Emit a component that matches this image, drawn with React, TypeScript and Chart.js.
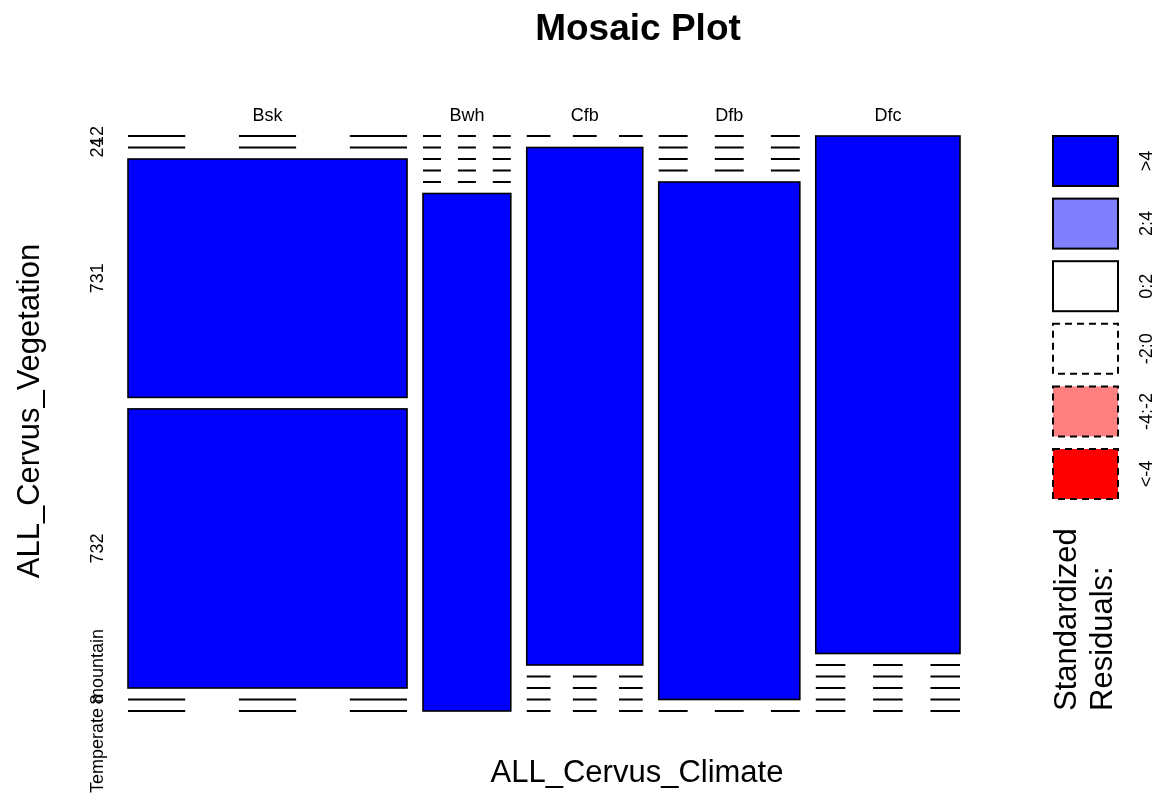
import { useEffect, useRef } from "react";
import { Chart, registerables } from "chart.js";

Chart.register(...registerables);

// Climate classes (columns) and vegetation classes (rows, top to bottom)
const climates = ["Bsk", "Bwh", "Cfb", "Dfb", "Dfc"];
const vegetation = ["12", "24", "731", "732", "8", "Temperate mountain"];

// Observation counts per climate, in the order of `vegetation`
const countsBsk = [0, 0, 41, 48, 0, 0];
const countsBwh = [0, 0, 0, 0, 0, 28];
const countsCfb = [0, 37, 0, 0, 0, 0];
const countsDfb = [0, 0, 0, 0, 45, 0];
const countsDfc = [46, 0, 0, 0, 0, 0];
const climateCounts = [countsBsk, countsBwh, countsCfb, countsDfb, countsDfc];

// Shading scale for standardized (Pearson) residuals
const residualLabels = [">4", "2:4", "0:2", "-2:0", "-4:-2", "<-4"];
const residualFills = ["#0000FF", "#8080FF", "#FFFFFF", "#FFFFFF", "#FF8080", "#FF0000"];
const residualDashed = [false, false, false, true, true, true];

const FONT = '"Liberation Sans", Arial, Helvetica, sans-serif';
const GAP_X = 0.0192; // spacing between climate columns, fraction of width
const GAP_Y = 0.02; // spacing between vegetation rows, fraction of height

function shadeIndex(r: number): number {
  if (r > 4) return 0;
  if (r > 2) return 1;
  if (r >= 0) return 2;
  if (r > -2) return 3;
  if (r > -4) return 4;
  return 5;
}

type Cell = { x0: number; x1: number; y0: number; y1: number; count: number; resid: number; col: number; row: number };

function buildCells(): Cell[] {
  const colTotals = climateCounts.map((c) => c.reduce((a, b) => a + b, 0));
  const rowTotals = vegetation.map((_, i) => climateCounts.reduce((a, c) => a + c[i], 0));
  const total = colTotals.reduce((a, b) => a + b, 0);
  const wAvail = 1 - (climates.length - 1) * GAP_X;
  const hAvail = 1 - (vegetation.length - 1) * GAP_Y;
  const cells: Cell[] = [];
  let x = 0;
  climateCounts.forEach((col, ci) => {
    const w = (wAvail * colTotals[ci]) / total;
    let y = 0;
    col.forEach((n, ri) => {
      const h = (hAvail * n) / colTotals[ci];
      const expected = (rowTotals[ri] * colTotals[ci]) / total;
      const resid = (n - expected) / Math.sqrt(expected);
      cells.push({ x0: x, x1: x + w, y0: y, y1: y + h, count: n, resid, col: ci, row: ri });
      y += h + GAP_Y;
    });
    x += w + GAP_X;
  });
  return cells;
}

const mosaicPlugin = {
  id: "mosaic",
  afterDraw(chart: any) {
    const ctx: CanvasRenderingContext2D = chart.ctx;
    const xs = chart.scales.x;
    const ys = chart.scales.y;
    const area = chart.chartArea;
    const cells = buildCells();

    ctx.save();
    // cells
    cells.forEach((c) => {
      const px0 = xs.getPixelForValue(c.x0);
      const px1 = xs.getPixelForValue(c.x1);
      const py0 = ys.getPixelForValue(c.y0);
      const py1 = ys.getPixelForValue(c.y1);
      if (c.count > 0) {
        const k = shadeIndex(c.resid);
        ctx.fillStyle = residualFills[k];
        ctx.fillRect(px0, py0, px1 - px0, py1 - py0);
        ctx.strokeStyle = "#000";
        ctx.lineWidth = 1.6;
        ctx.setLineDash(residualDashed[k] ? [6, 4] : []);
        ctx.strokeRect(px0, py0, px1 - px0, py1 - py0);
      } else {
        // empty cell: three short strokes across the column
        const w = px1 - px0;
        const seg = 0.205 * w;
        const starts = [px0, px0 + w / 2 - seg / 2, px1 - seg];
        ctx.strokeStyle = "#000";
        ctx.lineWidth = 2;
        ctx.setLineDash([]);
        starts.forEach((s) => {
          ctx.beginPath();
          ctx.moveTo(s, py0);
          ctx.lineTo(s + seg, py0);
          ctx.stroke();
        });
      }
    });

    ctx.fillStyle = "#000";
    ctx.textAlign = "center";
    ctx.textBaseline = "middle";

    // climate labels above each column
    ctx.font = `18px ${FONT}`;
    cells
      .filter((c) => c.row === 0)
      .forEach((c) => {
        const cx = (xs.getPixelForValue(c.x0) + xs.getPixelForValue(c.x1)) / 2;
        ctx.fillText(climates[c.col], cx, area.top - 20);
      });

    // vegetation labels beside the first column
    cells
      .filter((c) => c.col === 0)
      .forEach((c) => {
        const cy = (ys.getPixelForValue(c.y0) + ys.getPixelForValue(c.y1)) / 2;
        ctx.save();
        ctx.translate(area.left - 30, cy);
        ctx.rotate(-Math.PI / 2);
        ctx.fillText(vegetation[c.row], 0, 0);
        ctx.restore();
      });

    // title and axis titles
    ctx.font = `bold 37px ${FONT}`;
    ctx.fillText("Mosaic Plot", 638, 30);
    ctx.font = `31px ${FONT}`;
    ctx.fillText("ALL_Cervus_Climate", 637, 773);
    ctx.save();
    ctx.translate(30, 411);
    ctx.rotate(-Math.PI / 2);
    ctx.fillText("ALL_Cervus_Vegetation", 0, 0);
    ctx.restore();

    // residual legend
    const bx = 1053;
    const bw = 65;
    const bh = 50;
    const step = 62.6;
    residualLabels.forEach((lab, i) => {
      const by = 136 + i * step;
      ctx.fillStyle = residualFills[i];
      ctx.fillRect(bx, by, bw, bh);
      ctx.strokeStyle = "#000";
      ctx.lineWidth = 2;
      ctx.setLineDash(residualDashed[i] ? [7, 5] : []);
      ctx.strokeRect(bx, by, bw, bh);
      ctx.setLineDash([]);
      ctx.fillStyle = "#000";
      ctx.font = `18px ${FONT}`;
      ctx.save();
      ctx.translate(1147, by + bh / 2);
      ctx.rotate(-Math.PI / 2);
      ctx.textAlign = "center";
      ctx.fillText(lab, 0, 0);
      ctx.restore();
    });
    ctx.font = `31px ${FONT}`;
    ctx.textAlign = "left";
    ctx.save();
    ctx.translate(1067, 711);
    ctx.rotate(-Math.PI / 2);
    ctx.fillText("Standardized", 0, 0);
    ctx.fillText("Residuals:", 0, 36);
    ctx.restore();
    ctx.restore();
  },
};

export default function App() {
  const ref = useRef<HTMLCanvasElement | null>(null);
  useEffect(() => {
    if (!ref.current) return;
    const chart = new Chart(ref.current, {
      type: "scatter",
      data: { datasets: [{ data: [] }] },
      options: {
        responsive: false,
        animation: false,
        layout: { padding: { left: 128, right: 197, top: 136, bottom: 99 } },
        plugins: { legend: { display: false }, title: { display: false }, tooltip: { enabled: false } },
        scales: {
          x: { type: "linear", min: 0, max: 1, display: false },
          y: { type: "linear", min: 0, max: 1, reverse: true, display: false },
        },
      },
      plugins: [mosaicPlugin],
    });
    return () => chart.destroy();
  }, []);
  return (
    <div style={{ position: "fixed", left: 0, top: 0, width: 1157, height: 810, background: "#fff" }}>
      <canvas ref={ref} width={1157} height={810} />
    </div>
  );
}
